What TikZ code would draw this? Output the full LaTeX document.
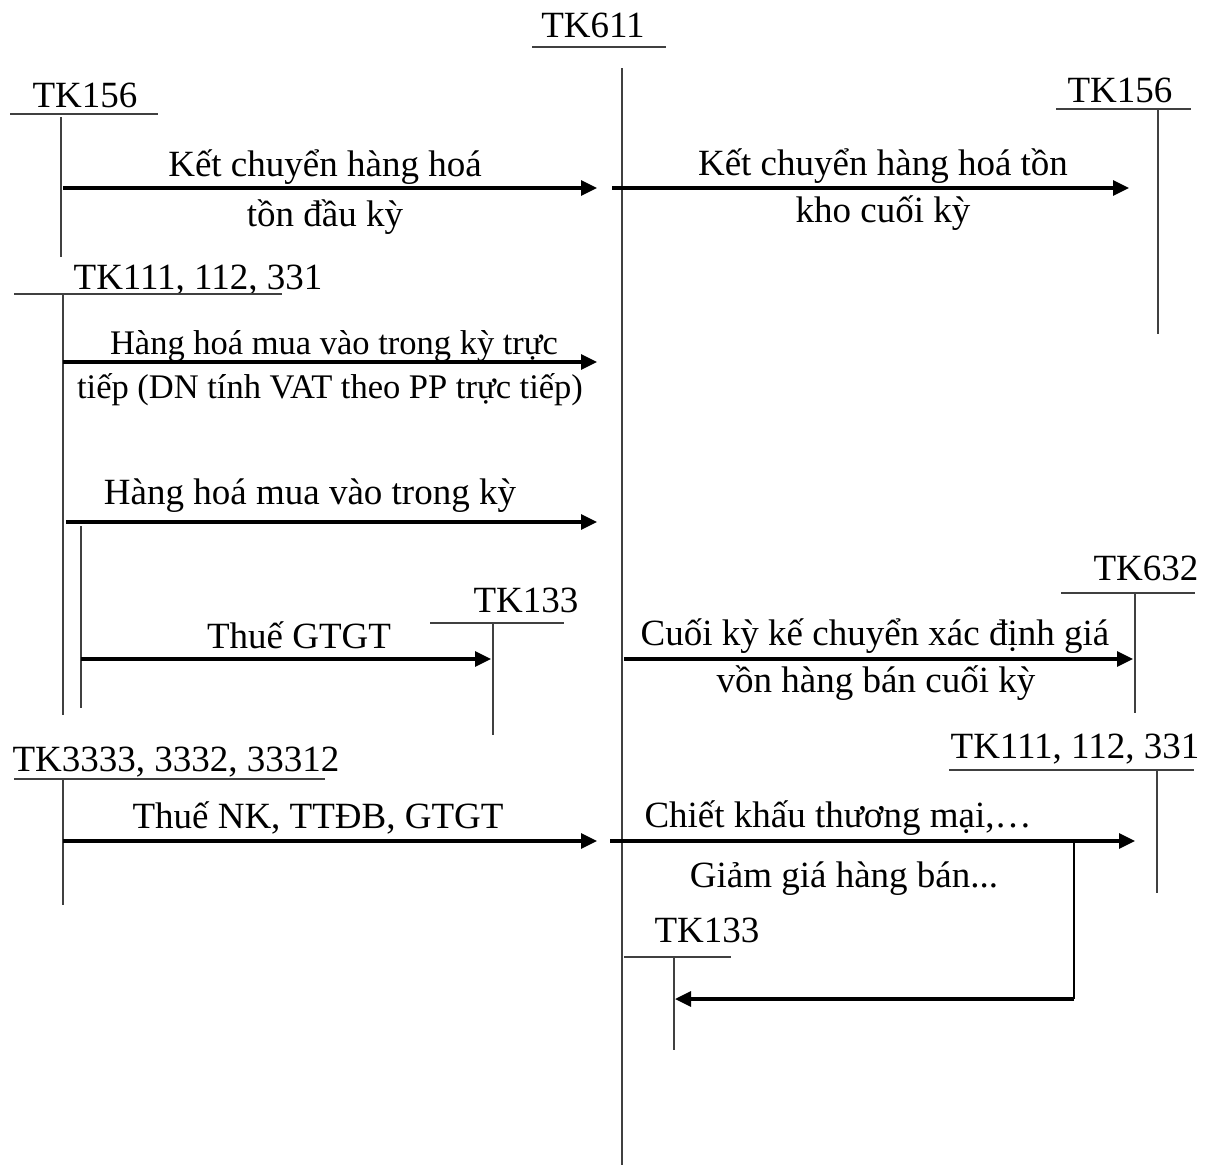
\documentclass[tikz,border=0pt]{standalone}
\usepackage{fontspec}
\setmainfont{Liberation Serif}
\usetikzlibrary{arrows.meta}
\begin{document}
\begin{tikzpicture}[x=1pt,y=-1pt,
  tline/.style={draw=black!75,line width=1.2pt},
  arr/.style={draw=black,line width=3.2pt,-{Triangle[length=16pt,width=15pt]}},
  brline/.style={draw=black,line width=2.4pt},
  lbl/.style={inner sep=0pt,anchor=base,font=\fontsize{37}{44}\selectfont},
  lbls/.style={inner sep=0pt,anchor=base,font=\fontsize{34.5}{40}\selectfont}]
\useasboundingbox (0,0) rectangle (1215,1165);

% ---- T-account labels
\node[lbl] (tk611) at (593,37) {TK611};
\node[lbl] (tk156l) at (85,107) {TK156};
\node[lbl] (tk156r) at (1120,102) {TK156};
\node[lbl] (tk111l) at (198,289) {TK111, 112, 331};
\node[lbl] (tk133m) at (526,612) {TK133};
\node[lbl] (tk632) at (1146,580) {TK632};
\node[lbl] (tk3333) at (176,771) {TK3333, 3332, 33312};
\node[lbl] (tk111r) at (1075,758) {TK111, 112, 331};
\node[lbl] (tk133b) at (707,942) {TK133};

% ---- T-account lines
\draw[tline] (532,47) -- (666,47);
\draw[tline] (622,68) -- (622,1165);
\draw[tline] (10,114) -- (158,114);
\draw[tline] (61,117) -- (61,257);
\draw[tline] (1056,109) -- (1191,109);
\draw[tline] (1158,109) -- (1158,334);
\draw[tline] (14,294) -- (282,294);
\draw[tline] (63,294) -- (63,715);
\draw[tline] (81,526) -- (81,708);
\draw[tline] (430,623) -- (564,623);
\draw[tline] (493,623) -- (493,735);
\draw[tline] (1061,593) -- (1195,593);
\draw[tline] (1135,593) -- (1135,713);
\draw[tline] (14,779) -- (325,779);
\draw[tline] (63,779) -- (63,905);
\draw[tline] (949,770) -- (1194,770);
\draw[tline] (1157,770) -- (1157,893);
\draw[tline] (624,957) -- (731,957);
\draw[tline] (674,957) -- (674,1050);

% ---- connector end points
\coordinate (a1s) at (63,188);   \coordinate (a1e) at (597,188);
\coordinate (a2s) at (612,188);  \coordinate (a2e) at (1129,188);
\coordinate (a3s) at (63,362);   \coordinate (a3e) at (597,362);
\coordinate (a4s) at (66,522);   \coordinate (a4e) at (597,522);
\coordinate (a5s) at (81,659);   \coordinate (a5e) at (491,659);
\coordinate (a6s) at (624,659);  \coordinate (a6e) at (1133,659);
\coordinate (a7s) at (63,841);   \coordinate (a7e) at (597,841);
\coordinate (a8s) at (610,841);  \coordinate (a8e) at (1135,841);
\coordinate (b1) at (1074,841);  \coordinate (b2) at (1074,999);
\coordinate (b3) at (675,999);

% ---- arrows
\draw[arr] (a1s) -- (a1e);
\draw[arr] (a2s) -- (a2e);
\draw[arr] (a3s) -- (a3e);
\draw[arr] (a4s) -- (a4e);
\draw[arr] (a5s) -- (a5e);
\draw[arr] (a6s) -- (a6e);
\draw[arr] (a7s) -- (a7e);
\draw[arr] (a8s) -- (a8e);
\draw[brline] (b1) -- (b2);
\draw[arr,line join=miter] (b2) -- (b3);

% ---- arrow labels
\node[lbl] (t1a) at (325,176) {Kết chuyển hàng hoá};
\node[lbl] (t1b) at (325,226) {tồn đầu kỳ};
\node[lbl] (t2a) at (883,175) {Kết chuyển hàng hoá tồn};
\node[lbl] (t2b) at (883,222) {kho cuối kỳ};
\node[lbls] (t3a) at (334,354) {Hàng hoá mua vào trong kỳ trực};
\node[lbls] (t3b) at (330,398) {tiếp (DN tính VAT theo PP trực tiếp)};
\node[lbl] (t4) at (310,504) {Hàng hoá mua vào trong kỳ};
\node[lbl] (t5) at (299,648) {Thuế GTGT};
\node[lbl] (t6a) at (875,645) {Cuối kỳ kế chuyển xác định giá};
\node[lbl] (t6b) at (876,692) {vồn hàng bán cuối kỳ};
\node[lbl] (t7) at (318,828) {Thuế NK, TTĐB, GTGT};
\node[lbl] (t8a) at (838,827) {Chiết khấu thương mại,…};
\node[lbl] (t8b) at (844,887) {Giảm giá hàng bán...};
\end{tikzpicture}
\end{document}
